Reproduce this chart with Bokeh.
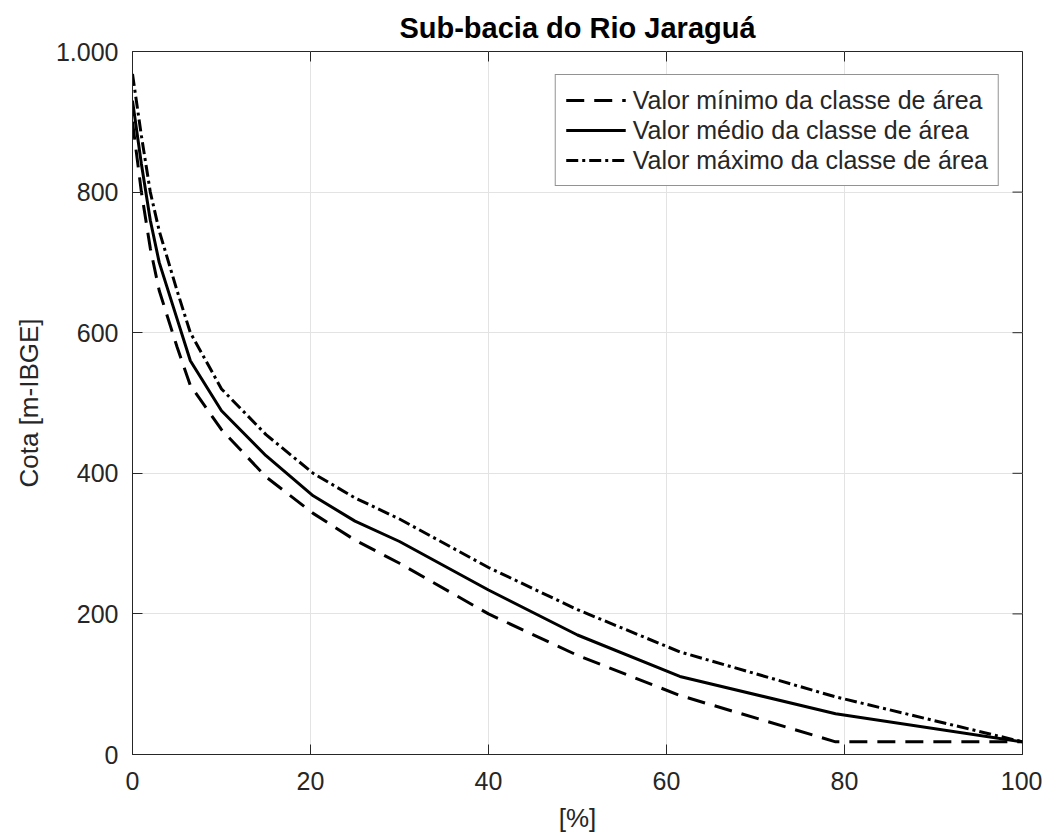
from bokeh.plotting import figure
from bokeh.models import Range1d, FixedTicker, CustomJSTickFormatter, Legend, LegendItem
from bokeh.embed import file_html
from bokeh.resources import INLINE

# Data
x_pct = [0, 1, 2, 3, 5, 6.5, 10, 15, 20.3, 25, 30, 40, 50, 61.5, 79, 100]
cota_max = [968, 880, 800, 745, 660, 600, 520, 455, 400, 365, 335, 266, 206, 146, 82, 18]
cota_med = [930, 840, 760, 700, 620, 560, 489, 425, 368, 332, 303, 234, 170, 111, 58, 18]
cota_min = [900, 800, 720, 660, 580, 525, 462, 395, 343, 305, 272, 200, 141, 84, 18, 18]
x_ticks = [0, 20, 40, 60, 80, 100]
y_ticks = [0, 200, 400, 600, 800, 1000]
labels = ["Valor mínimo da classe de área",
          "Valor médio da classe de área",
          "Valor máximo da classe de área"]

FONT = "Liberation Sans"
DARK = "#262626"
X0, X1, Y0, Y1 = 0, 100, 0, 1000

p = figure(width=1042, height=835, output_backend="svg", toolbar_location=None,
           x_range=Range1d(X0, X1), y_range=Range1d(Y0, Y1),
           min_border_left=132, min_border_top=51, min_border_right=20, min_border_bottom=80)

p.title.text = "Sub-bacia do Rio Jaraguá"
p.title.align = "center"
p.title.text_font = FONT
p.title.text_font_size = "29px"
p.title.text_font_style = "bold"
p.title.text_color = "#000000"
p.title.offset = 0
p.title.standoff = 16

fmt = CustomJSTickFormatter(code="return String(tick).replace(/\\B(?=(\\d{3})+(?!\\d))/g, '.');")

for ax in (p.xaxis[0], p.yaxis[0]):
    ax.major_label_text_font = FONT
    ax.major_label_text_font_size = "25px"
    ax.major_label_text_color = DARK
    ax.axis_label_text_font = FONT
    ax.axis_label_text_font_size = "26px"
    ax.axis_label_text_font_style = "normal"
    ax.axis_label_text_color = DARK
    ax.axis_line_color = DARK
    ax.major_tick_line_color = DARK
    ax.major_tick_in = 10
    ax.major_tick_out = 0
    ax.minor_tick_line_color = None

p.xaxis[0].ticker = FixedTicker(ticks=x_ticks)
p.yaxis[0].ticker = FixedTicker(ticks=y_ticks)
p.yaxis[0].formatter = fmt
p.xaxis[0].axis_label = "[%]"
p.yaxis[0].axis_label = "Cota [m-IBGE]"
p.xaxis[0].major_label_standoff = 17
p.yaxis[0].major_label_standoff = 14
p.xaxis[0].axis_label_standoff = 10
p.yaxis[0].axis_label_standoff = 9

p.outline_line_color = DARK
p.outline_line_width = 1

p.xgrid.ticker = FixedTicker(ticks=x_ticks)
p.ygrid.ticker = FixedTicker(ticks=y_ticks)
p.grid.grid_line_color = "#e3e3e3"
p.grid.grid_line_width = 1

# Mirrored inward ticks on the top and right edges (box on)
tick_dy = (Y1 - Y0) * 10 / 704
tick_dx = (X1 - X0) * 10 / 890
p.segment(x0=x_ticks, y0=[Y1] * len(x_ticks), x1=x_ticks, y1=[Y1 - tick_dy] * len(x_ticks),
          line_color=DARK, line_width=1)
p.segment(x0=[X1] * len(y_ticks), y0=y_ticks, x1=[X1 - tick_dx] * len(y_ticks), y1=y_ticks,
          line_color=DARK, line_width=1)

r_min = p.line(x_pct, cota_min, line_color="black", line_width=3, line_dash="18 10")
r_med = p.line(x_pct, cota_med, line_color="black", line_width=3)
r_max = p.line(x_pct, cota_max, line_color="black", line_width=3, line_dash="12 4 3 4")

legend = Legend(items=[LegendItem(label=labels[0], renderers=[r_min]),
                       LegendItem(label=labels[1], renderers=[r_med]),
                       LegendItem(label=labels[2], renderers=[r_max])],
                location="top_right")
legend.label_text_font = FONT
legend.label_text_font_size = "25px"
legend.label_text_color = DARK
legend.border_line_color = DARK
legend.border_line_width = 1
legend.margin = 23
legend.padding = 10
legend.spacing = 0
legend.glyph_width = 60
legend.glyph_height = 30
legend.label_standoff = 7
legend.label_height = 30
p.add_layout(legend, "center")

open("out.html", "w").write(file_html(p, INLINE))
